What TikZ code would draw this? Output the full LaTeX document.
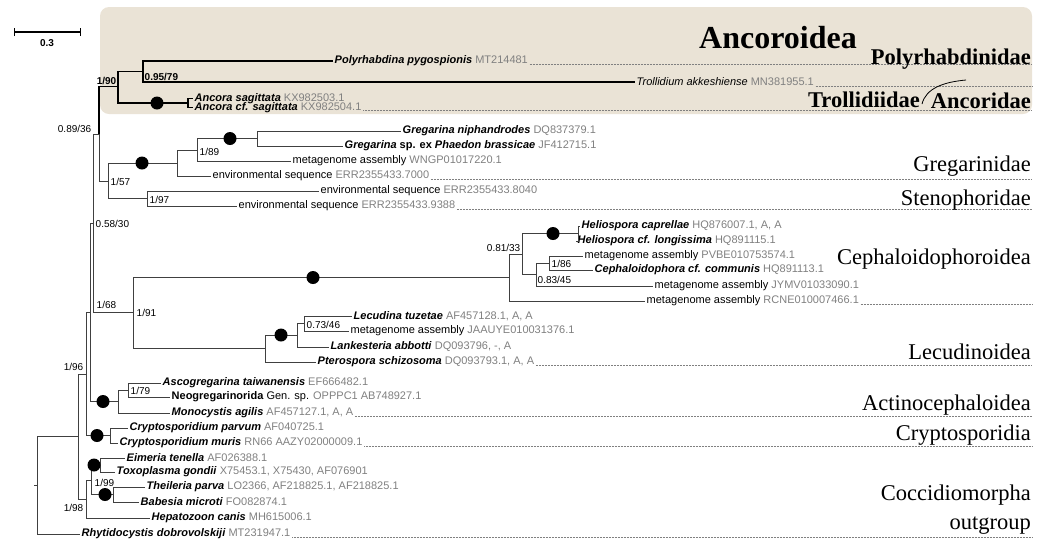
\documentclass[tikz,border=0pt]{standalone}
\usepackage{fontspec}
\setmainfont{Liberation Serif}
\setsansfont{Liberation Sans}
\definecolor{boxbeige}{RGB}{234,227,214}
\definecolor{accgray}{RGB}{128,128,128}
\definecolor{treegray}{RGB}{64,64,64}
\newcommand{\taxon}[2]{\textbf{\textit{#1}} \textcolor{accgray}{#2}}
\newcommand{\seqlab}[2]{#1 \textcolor{accgray}{#2}}

\begin{document}
\begin{tikzpicture}[x=1pt,y=-1pt,
        leaf/.style={anchor=west,inner sep=1.5pt,font=\sffamily\fontsize{11}{12}\selectfont},
        supp/.style={inner sep=0.5pt,font=\sffamily\fontsize{10}{11}\selectfont},
        suppb/.style={supp,font=\sffamily\bfseries\fontsize{10}{11}\selectfont},
        grp/.style={anchor=base east,inner sep=0pt,font=\fontsize{22.5}{24}\selectfont},
        grpb/.style={grp,font=\bfseries\fontsize{22.5}{24}\selectfont},
        br/.style={line width=0.9pt,treegray},
        thk/.style={line width=1.6pt,black},
        lead/.style={accgray,line width=0.6pt,dash pattern=on 0.6pt off 0.9pt}]
    \useasboundingbox (0,0) rectangle (1043,542);
    \fill[boxbeige,rounded corners=9pt] (100,7) rectangle (1032,114);
    \coordinate (rgt) at (1032,0);

    \coordinate (sbl) at (14,32);
    \coordinate (sbr) at (80,32);
    \draw[thk] (sbl) -- (sbr);
    \draw[line width=1pt] ([yshift=-4pt]sbl) -- ([yshift=4pt]sbl);
    \draw[line width=1pt] ([yshift=-4pt]sbr) -- ([yshift=4pt]sbr);
    \node[suppb] (sbval) at (47,43) {0.3};

    % inner nodes
    \coordinate (root) at (37,485);
    \coordinate (ingr) at (78,436.5);
    \coordinate (n96) at (86,374);
    \coordinate (n98) at (86,499);
    \coordinate (nq) at (90,312);
    \coordinate (n58) at (93,223);
    \coordinate (n89) at (99,134);
    \coordinate (anc) at (118,86.5);
    \coordinate (n95) at (143,71.5);
    \coordinate (ancn) at (188,103);
    \coordinate (n57) at (108,181);
    \coordinate (greg) at (177,163);
    \coordinate (n189) at (197,150);
    \coordinate (gpair) at (257,138.5);
    \coordinate (n97) at (147,198.5);
    \coordinate (n91) at (133,312);
    \coordinate (ceph) at (509,277.5);
    \coordinate (n81) at (522,254);
    \coordinate (helio) at (578,233.5);
    \coordinate (n83) at (536,274.5);
    \coordinate (n86) at (549,263);
    \coordinate (lecu) at (265,348.5);
    \coordinate (lec1) at (297,335);
    \coordinate (n73) at (304,323.5);
    \coordinate (actino) at (118,401.5);
    \coordinate (n79) at (128,390);
    \coordinate (crypto) at (110,435.5);
    \coordinate (n99) at (91,480);
    \coordinate (eim) at (100,465);
    \coordinate (thei) at (113,494.5);

    % leaves
    \node[leaf] (poly) at (333,61) {\taxon{Polyrhabdina pygospionis}{MT214481}};
    \node[leaf] (troll) at (635,82) {\textit{Trollidium akkeshiense} \textcolor{accgray}{MN381955.1}};
    \node[leaf] (ancs) at (193,98.5) {\taxon{Ancora sagittata}{KX982503.1}};
    \node[leaf] (ancc) at (193,107.5) {\taxon{Ancora cf. sagittata}{KX982504.1}};
    \node[leaf] (gniph) at (401,131) {\taxon{Gregarina niphandrodes}{DQ837379.1}};
    \node[leaf] (gsp) at (343,146) {\textbf{\textit{Gregarina} sp. ex \textit{Phaedon brassicae}} \textcolor{accgray}{JF412715.1}};
    \node[leaf] (wngp) at (291,161) {\seqlab{metagenome assembly}{WNGP01017220.1}};
    \node[leaf] (e7000) at (211,176) {\seqlab{environmental sequence}{ERR2355433.7000}};
    \node[leaf] (e8040) at (319,191) {\seqlab{environmental sequence}{ERR2355433.8040}};
    \node[leaf] (e9388) at (237,206) {\seqlab{environmental sequence}{ERR2355433.9388}};
    \node[leaf] (hcap) at (580,226) {\taxon{Heliospora caprellae}{HQ876007.1, A, A}};
    \node[leaf] (hlon) at (576,241) {\taxon{Heliospora cf. longissima}{HQ891115.1}};
    \node[leaf] (pvbe) at (583,256) {\seqlab{metagenome assembly}{PVBE010753574.1}};
    \node[leaf] (cepha) at (593,270) {\taxon{Cephaloidophora cf. communis}{HQ891113.1}};
    \node[leaf] (jymv) at (653,286) {\seqlab{metagenome assembly}{JYMV01033090.1}};
    \node[leaf] (rcne) at (645,301) {\seqlab{metagenome assembly}{RCNE010007466.1}};
    \node[leaf] (lectu) at (352,316) {\taxon{Lecudina tuzetae}{AF457128.1, A, A}};
    \node[leaf] (jaauye) at (349,331) {\seqlab{metagenome assembly}{JAAUYE010031376.1}};
    \node[leaf] (lank) at (329,347) {\taxon{Lankesteria abbotti}{DQ093796, -, A}};
    \node[leaf] (ptero) at (316,362) {\taxon{Pterospora schizosoma}{DQ093793.1, A, A}};
    \node[leaf] (ascog) at (161,383) {\taxon{Ascogregarina taiwanensis}{EF666482.1}};
    \node[leaf] (neog) at (170,397) {\textbf{Neogregarinorida} Gen. sp. \textcolor{accgray}{OPPPC1 AB748927.1}};
    \node[leaf] (monoc) at (170,413) {\taxon{Monocystis agilis}{AF457127.1, A, A}};
    \node[leaf] (cparv) at (128,428) {\taxon{Cryptosporidium parvum}{AF040725.1}};
    \node[leaf] (cmur) at (118,443) {\taxon{Cryptosporidium muris}{RN66 AAZY02000009.1}};
    \node[leaf] (eimt) at (125,458) {\taxon{Eimeria tenella}{AF026388.1}};
    \node[leaf] (toxo) at (115,472) {\taxon{Toxoplasma gondii}{X75453.1, X75430, AF076901}};
    \node[leaf] (thpar) at (145,487) {\taxon{Theileria parva}{LO2366, AF218825.1, AF218825.1}};
    \node[leaf] (babm) at (139,502) {\taxon{Babesia microti}{FO082874.1}};
    \node[leaf] (hepa) at (150,518) {\taxon{Hepatozoon canis}{MH615006.1}};
    \node[leaf] (rhyt) at (80,534) {\taxon{Rhytidocystis dobrovolskiji}{MT231947.1}};

    % Ancoroidea branches
    \draw[thk] (n89) |- (anc);
    \draw[thk] (anc) |- (n95);
    \draw[thk] (anc) |- (ancn);
    \draw[thk] (n95) |- (poly.west);
    \draw[thk] (n95) |- (troll.west);
    \draw[thk] (ancn) |- (ancs.west);
    \draw[thk] (ancn) |- (ancc.west);

    % remaining branches
    \draw[br] (root) -- ++(-3,0);
    \draw[br] (root) |- (ingr);
    \draw[br] (root) |- (rhyt.west);
    \draw[br] (ingr) |- (n96);
    \draw[br] (ingr) |- (n98);
    \draw[br] (n96) |- (nq);
    \draw[br] (n96) |- (crypto);
    \draw[br] (nq) |- (n58);
    \draw[br] (nq) |- (actino);
    \draw[br] (n58) |- (n89);
    \draw[br] (n58) |- (n91);
    \draw[br] (n89) |- (n57);
    \draw[br] (n57) |- (greg);
    \draw[br] (n57) |- (n97);
    \draw[br] (greg) |- (n189);
    \draw[br] (greg) |- (e7000.west);
    \draw[br] (n189) |- (gpair);
    \draw[br] (n189) |- (wngp.west);
    \draw[br] (gpair) |- (gniph.west);
    \draw[br] (gpair) |- (gsp.west);
    \draw[br] (n97) |- (e8040.west);
    \draw[br] (n97) |- (e9388.west);
    \draw[br] (n91) |- (ceph);
    \draw[br] (n91) |- (lecu);
    \draw[br] (ceph) |- (n81);
    \draw[br] (ceph) |- (rcne.west);
    \draw[br] (n81) |- (helio);
    \draw[br] (n81) |- (n83);
    \draw[br] (helio) |- (hcap.west);
    \draw[br] (helio) |- (hlon.west);
    \draw[br] (n83) |- (n86);
    \draw[br] (n83) |- (jymv.west);
    \draw[br] (n86) |- (pvbe.west);
    \draw[br] (n86) |- (cepha.west);
    \draw[br] (lecu) |- (lec1);
    \draw[br] (lecu) |- (ptero.west);
    \draw[br] (lec1) |- (n73);
    \draw[br] (lec1) |- (lank.west);
    \draw[br] (n73) |- (lectu.west);
    \draw[br] (n73) |- (jaauye.west);
    \draw[br] (actino) |- (n79);
    \draw[br] (actino) |- (monoc.west);
    \draw[br] (n79) |- (ascog.west);
    \draw[br] (n79) |- (neog.west);
    \draw[br] (crypto) |- (cparv.west);
    \draw[br] (crypto) |- (cmur.west);
    \draw[br] (n98) |- (n99);
    \draw[br] (n98) |- (hepa.west);
    \draw[br] (n99) |- (eim);
    \draw[br] (n99) |- (thei);
    \draw[br] (eim) |- (eimt.west);
    \draw[br] (eim) |- (toxo.west);
    \draw[br] (thei) |- (thpar.west);
    \draw[br] (thei) |- (babm.west);

    % full-support dots
    \fill (157,103) circle (6.5pt);
    \fill (142,163) circle (6.5pt);
    \fill (230,138.5) circle (6.5pt);
    \fill (313,277.5) circle (6.5pt);
    \fill (553,233.5) circle (6.5pt);
    \fill (281,335) circle (6.5pt);
    \fill (103,401.5) circle (6.5pt);
    \fill (97,435.5) circle (6.5pt);
    \fill (94,465) circle (6.5pt);
    \fill (105,494.5) circle (6.5pt);

    % support values
    \node[suppb,anchor=base east] (l90) at (117,84) {1/90};
    \node[suppb,anchor=west] (l95) at (144,77) {0.95/79};
    \node[supp,anchor=base east] (l89) at (92,132) {0.89/36};
    \node[supp,anchor=west] (l57) at (110,182) {1/57};
    \node[supp,anchor=west] (l97) at (149,199.5) {1/97};
    \node[supp,anchor=west] (l189) at (199,151.5) {1/89};
    \node[supp,anchor=west] (l58) at (95,224) {0.58/30};
    \node[supp,anchor=base west] (l68) at (96,308) {1/68};
    \node[supp,anchor=west] (l91) at (136,313) {1/91};
    \node[supp,anchor=base east] (l81) at (521,251) {0.81/33};
    \node[supp,anchor=west] (l86) at (551,263.5) {1/86};
    \node[supp,anchor=west] (l83) at (537,280) {0.83/45};
    \node[supp,anchor=west] (l73) at (306,324.5) {0.73/46};
    \node[supp,anchor=west] (l79) at (130,391) {1/79};
    \node[supp,anchor=west] (l99) at (94,483) {1/99};
    \node[supp,anchor=base east] (l96) at (84,370) {1/96};
    \node[supp,anchor=east] (l98) at (84,508) {1/98};

    % leaders to the right edge
    \foreach \lf in {poly,troll,ancc,e7000,e9388,rcne,ptero,monoc,cmur,rhyt}
        \draw[lead] (\lf.base east) -- (\lf.base east -| rgt);

    % group names
    \node[anchor=base,inner sep=0pt,font=\bfseries\fontsize{32}{34}\selectfont] (ancoroidea) at (778,48) {Ancoroidea};
    \node[grpb] (polyl) at (1031,64) {Polyrhabdinidae};
    \node[grpb] (trolll) at (920,107) {Trollidiidae};
    \node[grpb] (ancl) at (1031,108) {Ancoridae};
    \coordinate (crvtop) at (966,80);
    \draw[line width=0.8pt] ([xshift=2pt,yshift=3pt]trolll.base east) .. controls +(4,-16) and +(-22,2) .. (crvtop);
    \node[grp] (gregl) at (1031,171) {Gregarinidae};
    \node[grp] (stenl) at (1031,205) {Stenophoridae};
    \node[grp] (cephl) at (1031,264) {Cephaloidophoroidea};
    \node[grp] (lecul) at (1031,359) {Lecudinoidea};
    \node[grp] (actl) at (1031,410) {Actinocephaloidea};
    \node[grp] (cryl) at (1031,440) {Cryptosporidia};
    \node[grp] (cocl) at (1031,500) {Coccidiomorpha};
    \node[grp] (outl) at (1031,529) {outgroup};
\end{tikzpicture}
\end{document}
